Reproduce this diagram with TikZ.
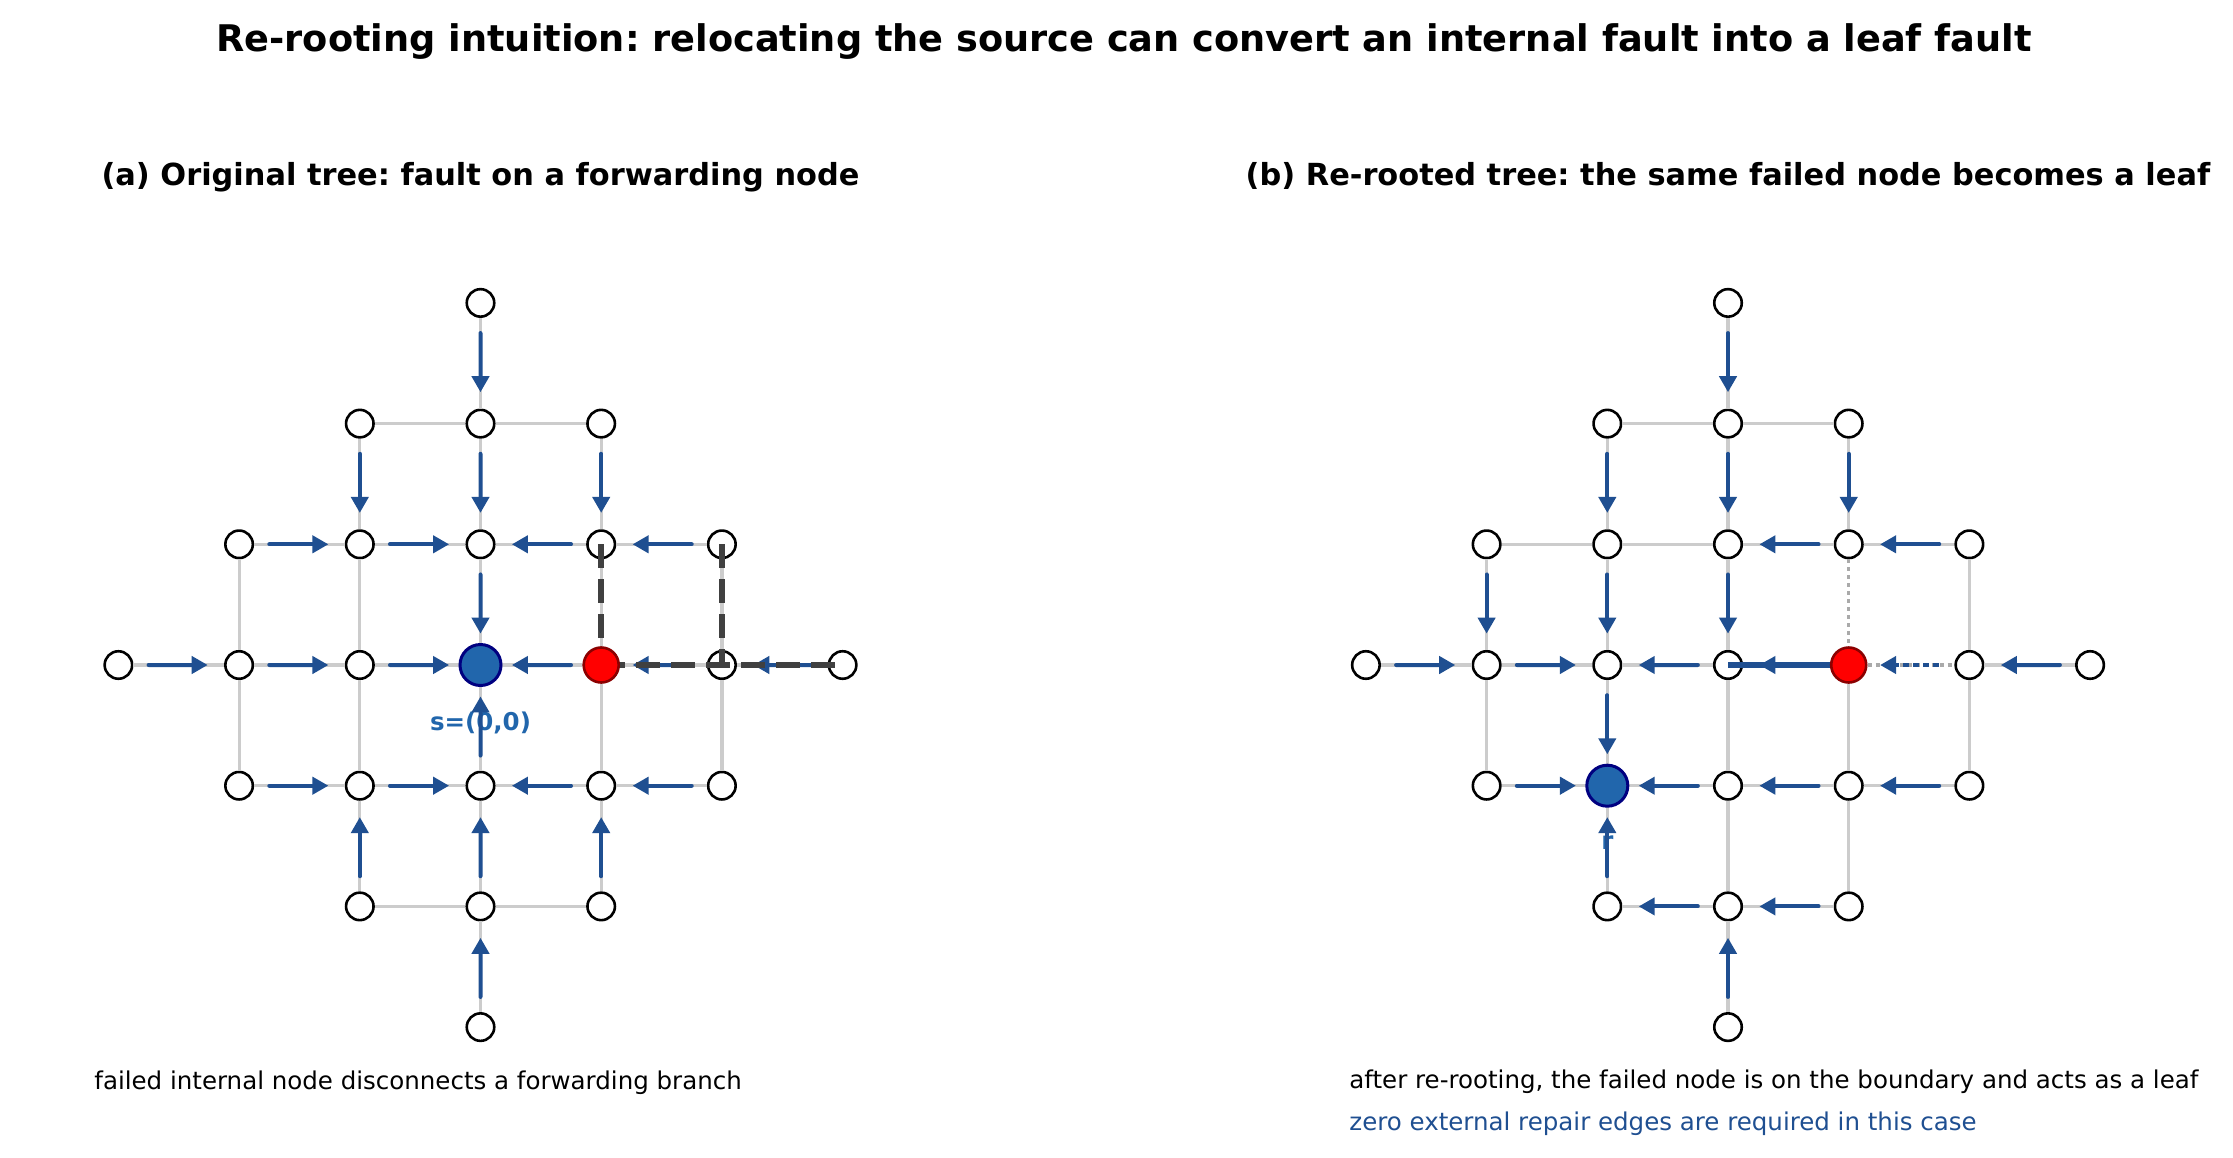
\documentclass[tikz,border=0pt]{standalone}
\usepackage{fontspec}
\setmainfont{DejaVu Sans}
\frenchspacing
\usetikzlibrary{arrows.meta,calc}

\definecolor{treeblue}{HTML}{1F4F91}
\definecolor{srcblue}{HTML}{2166AC}
\definecolor{edgegray}{HTML}{CCCCCC}
\definecolor{lostgray}{HTML}{404040}
\definecolor{dotgray}{HTML}{AAAAAA}
\definecolor{srcrim}{HTML}{000080}
\definecolor{failrim}{HTML}{8B0000}

\begin{document}
\begin{tikzpicture}[x=0.5pt, y=-0.5pt,
    gridnode/.style={circle, draw=black, line width=1.3pt, fill=white, minimum size=13.75pt, inner sep=0pt},
    failnode/.style={circle, draw=failrim, line width=1.3pt, fill=red, minimum size=17.5pt, inner sep=0pt},
    srcnode/.style={circle, draw=srcrim, line width=1.5pt, fill=srcblue, minimum size=20.5pt, inner sep=0pt},
    gridedge/.style={edgegray, line width=1.6pt},
    dotedge/.style={dotgray, line width=1.6pt, dash pattern=on 2pt off 2pt},
    treearrow/.style={treeblue, line width=2pt, line cap=round, -{Triangle[length=8pt, width=8.5pt]}},
    lostedge/.style={lostgray, line width=3pt, dash pattern=on 12pt off 5.5pt},
    shiftedge/.style={treeblue, line width=3.35pt},
    srclabel/.style={srcblue, font=\bfseries\fontsize{12.25}{14}\selectfont, inner sep=0pt, anchor=base},
    titletext/.style={font=\bfseries\fontsize{18.35}{22}\selectfont, inner sep=0pt, anchor=base},
    paneltitle/.style={font=\bfseries\fontsize{15.2}{18}\selectfont, inner sep=0pt, anchor=base},
    captext/.style={font=\fontsize{12.25}{14}\selectfont, inner sep=0pt, anchor=base west}]

    \useasboundingbox (0,0) rectangle (2233,1157);

    % Titles
    \node[titletext] (title) at (1124,51) {Re-rooting intuition: relocating the source can convert an internal fault into a leaf fault};
    \node[paneltitle] (titlea) at (480.5,185) {(a) Original tree: fault on a forwarding node};
    \node[paneltitle] (titleb) at (1728,185) {(b) Re-rooted tree: the same failed node becomes a leaf};

    % Grid nodes (diamond of radius 3) for both panels
    \foreach \p/\cx in {a/480.5, b/1728} {
        \foreach \i in {0,...,6} {
            \foreach \j in {0,...,6} {
                \pgfmathtruncatemacro\inn{abs(\i-3)+abs(\j-3)<4}
                \ifnum\inn=1
                    \node[gridnode] (\p\i\j) at ({\cx+(\i-3)*120.7}, {665-(\j-3)*120.7}) {};
                \fi
            }
        }
    }

    % Light grid edges (the two edges at the failed node in (b) are dotted)
    \foreach \p/\k in {a/0, b/1} {
        \foreach \i in {0,...,6} {
            \foreach \j in {0,...,6} {
                \pgfmathtruncatemacro\ni{\i+1}
                \pgfmathtruncatemacro\nj{\j+1}
                \pgfmathtruncatemacro\hor{(abs(\i-3)+abs(\j-3)<4)*(abs(\i-2)+abs(\j-3)<4)*(1-\k*(\i==4)*(\j==3))}
                \pgfmathtruncatemacro\ver{(abs(\i-3)+abs(\j-3)<4)*(abs(\i-3)+abs(\j-2)<4)*(1-\k*(\i==4)*(\j==3))}
                \ifnum\hor=1 \draw[gridedge] (\p\i\j) -- (\p\ni\j); \fi
                \ifnum\ver=1 \draw[gridedge] (\p\i\j) -- (\p\i\nj); \fi
            }
        }
    }

    % Source labels
    \node[srclabel] (slab) at ($(a33)+(0,65)$) {s=(0,0)};
    \node[srclabel] (rlab) at ($(b22)+(0,64)$) {r};

    % Tree arrows, panel (a)
    \foreach \u/\v in {a36/a35, a25/a24, a35/a34, a45/a44, a14/a24, a24/a34, a44/a34, a54/a44,
                       a34/a33, a03/a13, a13/a23, a23/a33, a43/a33, a53/a43, a63/a53,
                       a12/a22, a22/a32, a42/a32, a52/a42, a32/a33, a21/a22, a31/a32, a41/a42, a30/a31}
        \draw[treearrow] ($(\u)!.25!(\v)$) -- ($(\u)!.74!(\v)$);

    % Tree arrows, panel (b)
    \foreach \u/\v in {b36/b35, b25/b24, b35/b34, b45/b44, b44/b34, b54/b44, b14/b13, b24/b23, b34/b33,
                       b03/b13, b13/b23, b33/b23, b43/b33, b63/b53, b23/b22,
                       b12/b22, b32/b22, b42/b32, b52/b42, b21/b22, b31/b21, b41/b31, b30/b31}
        \draw[treearrow] ($(\u)!.25!(\v)$) -- ($(\u)!.74!(\v)$);

    % Disconnected branch in (a)
    \draw[lostedge] (a44.center) -- (a43.center);
    \draw[lostedge] (a54.center) -- (a53.center);
    \draw[lostedge] (a43.center) -- (a53.center) -- (a63.center);

    % Edge to the failed leaf in (b)
    \draw[shiftedge] (b33.center) -- (b43.center);

    % Failed nodes and sources
    \node[failnode] (af) at (a43) {};
    \node[srcnode] (as) at (a33) {};
    \node[failnode] (bf) at (b43) {};
    \node[srcnode] (bs) at (b22) {};

    % Unused edges at the failed leaf
    \draw[dotedge] (b44) -- (bf);
    \draw[dotedge] (bf) -- (b53);
    \draw[treeblue, line width=2pt, dash pattern=on 3pt off 2pt] ($(b53)!.25!(b43)$) -- ($(b53)!.66!(b43)$);
    \draw[treearrow] ($(b53)!.68!(b43)$) -- ($(b53)!.74!(b43)$);

    % Captions
    \node[captext] (capa) at (94,1089) {failed internal node disconnects a forwarding branch};
    \node[captext] (capb) at (1349,1088) {after re-rooting, the failed node is on the boundary and acts as a leaf};
    \node[captext, treeblue] (capc) at (1349,1130) {zero external repair edges are required in this case};
\end{tikzpicture}
\end{document}
